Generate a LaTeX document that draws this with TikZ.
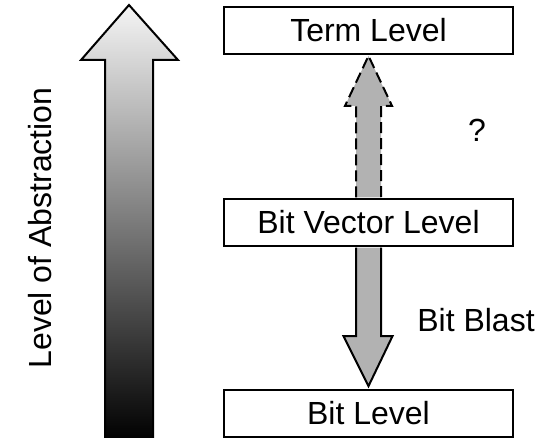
\documentclass[tikz,border=0pt]{standalone}
\usepackage{fontspec}
\setmainfont{Liberation Sans}
\usetikzlibrary{calc}
\begin{document}
\begin{tikzpicture}[x=1pt,y=-1pt,line join=miter,
  lvl/.style={draw,fill=white,line width=1.8pt,minimum width=289pt,minimum height=47pt,inner sep=0pt,font=\fontsize{32}{38}\selectfont},
  lbl/.style={font=\fontsize{32}{38}\selectfont,inner sep=0pt},
  blk/.style={fill=black!30,line width=2pt}]
\useasboundingbox (0,0) rectangle (537,438);
% left gradient arrow
\draw[line width=2pt,top color=white!96!black,bottom color=black]
  (105,441) -- (105,60) -- (81,60) -- (129,5) -- (178,60) -- (153,60) -- (153,441);
\node[lbl,rotate=90] (abs) at (40,228) {Level of Abstraction};
% level boxes
\node[lvl] (term) at (368.5,30.5) {Term Level};
\node[lvl] (bv) at (368.5,222.5) {Bit Vector Level};
\node[lvl] (bit) at (368.5,413.5) {Bit Level};
% dashed up arrow
\draw[blk,dash pattern=on 11pt off 5pt]
  ($(bv.north)+(-12.5,-0.8)$) -- ($(term.south)+(-12.5,51)$) -- ($(term.south)+(-23.5,51)$)
  -- ($(term.south)+(0,1)$) -- ($(term.south)+(23.5,51)$) -- ($(term.south)+(12.5,51)$)
  -- ($(bv.north)+(12.5,-0.8)$);
% solid down arrow
\draw[blk]
  ($(bv.south)+(-12.5,0.8)$) -- ($(bit.north)+(-12.5,-53)$) -- ($(bit.north)+(-25,-53)$)
  -- ($(bit.north)+(0,-3)$) -- ($(bit.north)+(24,-53)$) -- ($(bit.north)+(12.5,-53)$)
  -- ($(bv.south)+(12.5,0.8)$);
\node[lbl] (q) at (477,130) {?};
\node[lbl] (blast) at (476,320) {Bit Blast};
\end{tikzpicture}
\end{document}
